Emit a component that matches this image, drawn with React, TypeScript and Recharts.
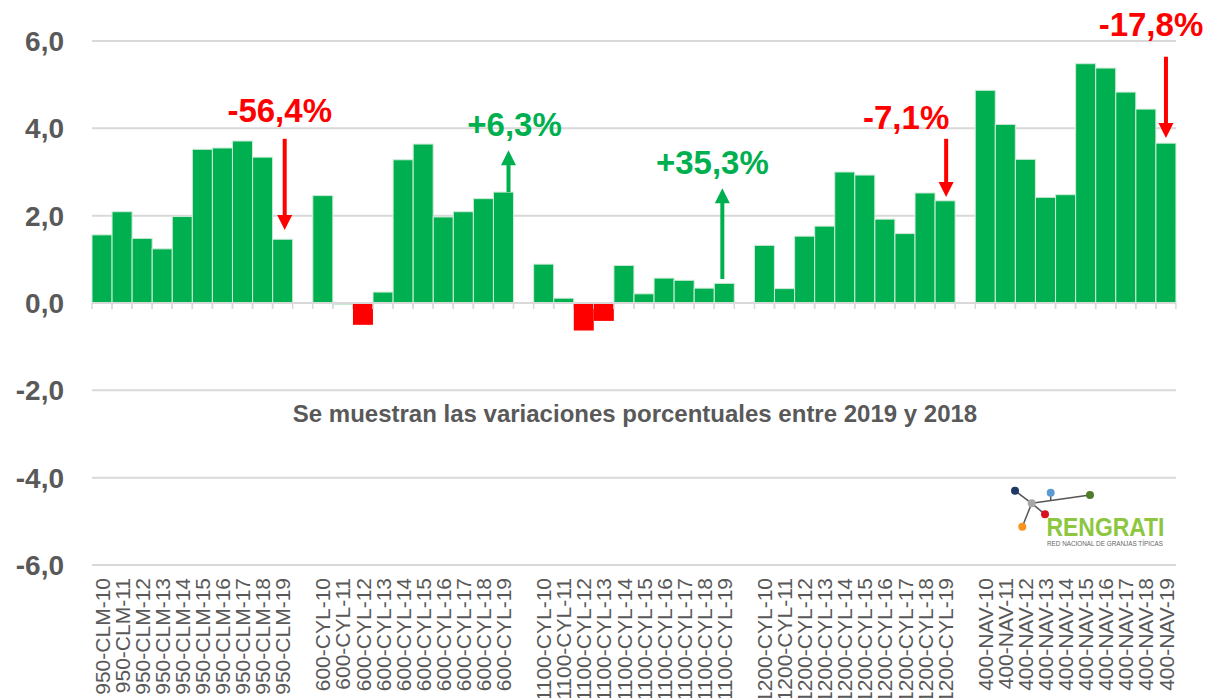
import React from "react";
import {
  BarChart,
  Bar,
  Cell,
  XAxis,
  YAxis,
  CartesianGrid,
  ReferenceLine,
  ReferenceDot,
} from "recharts";

// farm groups and years shown on the axis
const groups = ["950-CLM", "600-CYL", "1100-CYL", "1200-CYL", "400-NAV"];
const years = ["10", "11", "12", "13", "14", "15", "16", "17", "18", "19"];

// values per group (2010..2019)
const clmValues = [1.56, 2.09, 1.48, 1.24, 1.98, 3.52, 3.55, 3.71, 3.34, 1.46];
const cyl600Values = [2.46, -0.03, -0.5, 0.25, 3.28, 3.64, 1.97, 2.09, 2.39, 2.54];
const cyl1100Values = [0.89, 0.11, -0.63, -0.41, 0.86, 0.21, 0.57, 0.52, 0.34, 0.45];
const cyl1200Values = [1.32, 0.33, 1.53, 1.76, 3.0, 2.93, 1.92, 1.59, 2.52, 2.34];
const navValues = [4.87, 4.09, 3.29, 2.42, 2.48, 5.48, 5.38, 4.83, 4.44, 3.66];
const groupValues = [clmValues, cyl600Values, cyl1100Values, cyl1200Values, navValues];

const yTicks = [-6, -4, -2, 0, 2, 4, 6];

// annotations: category, text, arrow start/end, label height
const annCats = ["950-CLM-19", "600-CYL-19", "1100-CYL-19", "1200-CYL-19", "400-NAV-19"];
const annTexts = ["-56,4%", "+6,3%", "+35,3%", "-7,1%", "-17,8%"];
const annFrom = [3.76, 2.54, 0.55, 3.76, 5.64];
const annTo = [1.67, 3.5, 2.63, 2.43, 3.78];
const annLabelY = [4.4, 4.08, 3.21, 4.24, 6.37];

// horizontal nudges for labels / arrows (px)
const annLayout = [
  { labelDx: -3, arrowDx: 2 },
  { labelDx: 11, arrowDx: 5 },
  { labelDx: -12, arrowDx: -2 },
  { labelDx: -39, arrowDx: 1 },
  { labelDx: -15, arrowDx: 0 },
];

const GREEN = "#00B050";
const RED = "#FF0000";
const GRAY = "#595959";
const GRID = "#d9d9d9";
const FONT = "Arial, 'Liberation Sans', sans-serif";

const data: { name: string; value: number | null }[] = [];
groups.forEach((g, gi) => {
  if (gi > 0) data.push({ name: `gap-${gi}`, value: null });
  years.forEach((yr, yi) => {
    data.push({ name: `${g}-${yr}`, value: groupValues[gi][yi] });
  });
});

const BarShape = (props: any) => {
  const { x, y, width, height, fill } = props;
  const base = y + height;
  const top = Math.min(y, base);
  const h = Math.abs(height);
  return (
    <g>
      <line x1={x} x2={x} y1={base} y2={base + 6} stroke={GRID} strokeWidth={1.5} />
      <line x1={x + width} x2={x + width} y1={base} y2={base + 6} stroke={GRID} strokeWidth={1.5} />
      <rect
        x={x}
        y={top}
        width={width}
        height={h}
        fill={fill}
        stroke={fill === RED ? "none" : "#cdebd7"}
        strokeWidth={1}
      />
    </g>
  );
};

const XTick = (props: any) => {
  const { x, y, payload } = props;
  const v: string = payload.value;
  if (v.startsWith("gap")) return null;
  return (
    <text
      transform={`translate(${x},${y + 5}) rotate(-90)`}
      textAnchor="end"
      dy="0.36em"
      fontSize={21}
      fontFamily={FONT}
      fill={GRAY}
    >
      {v}
    </text>
  );
};

const makeArrow = (color: string, dx: number) => (props: any) => {
  const { x1, y1, y2 } = props;
  const x = x1 + dx;
  const dir = y2 > y1 ? 1 : -1;
  const head = 15;
  const shaftEnd = y2 - dir * head;
  return (
    <g>
      <line x1={x} x2={x} y1={y1} y2={shaftEnd + dir * 1} stroke={color} strokeWidth={4} />
      <polygon
        points={`${x - 7.5},${shaftEnd} ${x + 7.5},${shaftEnd} ${x},${y2}`}
        fill={color}
      />
    </g>
  );
};

const makeLabel = (text: string, color: string, dx: number) => (props: any) => {
  const { cx, cy } = props;
  return (
    <text
      x={cx + dx}
      y={cy}
      textAnchor="middle"
      dominantBaseline="central"
      fontSize={33}
      fontWeight="bold"
      fontFamily={FONT}
      fill={color}
    >
      {text}
    </text>
  );
};

const Logo = () => (
  <g>
    <line x1={1015} y1={490.7} x2={1031.7} y2={503.3} stroke="#555" strokeWidth={1.5} />
    <line x1={1031.7} y1={503.3} x2={1022.3} y2={526.7} stroke="#555" strokeWidth={1.5} />
    <line x1={1031.7} y1={503.3} x2={1045} y2={514.3} stroke="#555" strokeWidth={1.5} />
    <line x1={1031.7} y1={503.3} x2={1090} y2={495} stroke="#555" strokeWidth={1.5} />
    <line x1={1050.7} y1={492.7} x2={1050.7} y2={500.6} stroke="#555" strokeWidth={1.5} />
    <circle cx={1015} cy={490.7} r={4} fill="#1f3864" />
    <circle cx={1031.7} cy={503.3} r={4} fill="#a6a6a6" />
    <circle cx={1050.7} cy={492.7} r={4} fill="#5b9bd5" />
    <circle cx={1090} cy={495} r={4} fill="#4f7b2c" />
    <circle cx={1045} cy={514.3} r={4} fill="#d9121f" />
    <circle cx={1022.3} cy={526.7} r={4} fill="#f7941d" />
    <text
      x={1046.5}
      y={535.5}
      fontSize={26}
      fontWeight="bold"
      fontFamily={FONT}
      fill="#8dc63f"
      textLength={118}
      lengthAdjust="spacingAndGlyphs"
    >
      RENGRATI
    </text>
    <text
      x={1047}
      y={546}
      fontSize={7}
      fontFamily={FONT}
      fill="#666"
      textLength={116}
      lengthAdjust="spacingAndGlyphs"
    >
      RED NACIONAL DE GRANJAS TÍPICAS
    </text>
  </g>
);

export default function App() {
  return (
    <div style={{ position: "absolute", left: 0, top: 0, width: 1212, height: 698, background: "#fff" }}>
      <BarChart
        width={1212}
        height={698}
        data={data}
        margin={{ top: 41, right: 36, bottom: 0, left: 0 }}
        barCategoryGap={0}
        barGap={0}
      >
        <CartesianGrid vertical={false} stroke={GRID} strokeWidth={2} />
        <XAxis
          dataKey="name"
          type="category"
          interval={0}
          height={133}
          tickLine={false}
          axisLine={false}
          tick={<XTick />}
        />
        <YAxis
          type="number"
          domain={[-6, 6]}
          ticks={yTicks}
          width={92}
          axisLine={false}
          tickLine={false}
          tickMargin={22}
          tickFormatter={(v: number) => v.toFixed(1).replace(".", ",")}
          tick={{ fontSize: 28, fontWeight: "bold", fill: GRAY, fontFamily: FONT }}
        />
        <ReferenceLine y={0} stroke={GRID} strokeWidth={2} />
        <Bar dataKey="value" isAnimationActive={false} shape={<BarShape />}>
          {data.map((d) => (
            <Cell key={d.name} fill={d.value !== null && d.value < -0.1 ? RED : GREEN} />
          ))}
        </Bar>
        {annCats.map((cat, i) => {
          const color = annTexts[i].startsWith("-") ? RED : GREEN;
          return (
            <ReferenceLine
              key={`arrow-${cat}`}
              segment={[
                { x: cat, y: annFrom[i] },
                { x: cat, y: annTo[i] },
              ]}
              ifOverflow="visible"
              shape={makeArrow(color, annLayout[i].arrowDx)}
            />
          );
        })}
        {annCats.map((cat, i) => {
          const color = annTexts[i].startsWith("-") ? RED : GREEN;
          return (
            <ReferenceDot
              key={`label-${cat}`}
              x={cat}
              y={annLabelY[i]}
              r={0}
              ifOverflow="visible"
              shape={makeLabel(annTexts[i], color, annLayout[i].labelDx)}
            />
          );
        })}
      </BarChart>
      <svg
        width={1212}
        height={698}
        style={{ position: "absolute", left: 0, top: 0, pointerEvents: "none" }}
      >
        <text
          x={635}
          y={413}
          textAnchor="middle"
          dominantBaseline="central"
          fontSize={24}
          fontWeight="bold"
          fontFamily={FONT}
          fill={GRAY}
        >
          Se muestran las variaciones porcentuales entre 2019 y 2018
        </text>
        <Logo />
      </svg>
    </div>
  );
}
